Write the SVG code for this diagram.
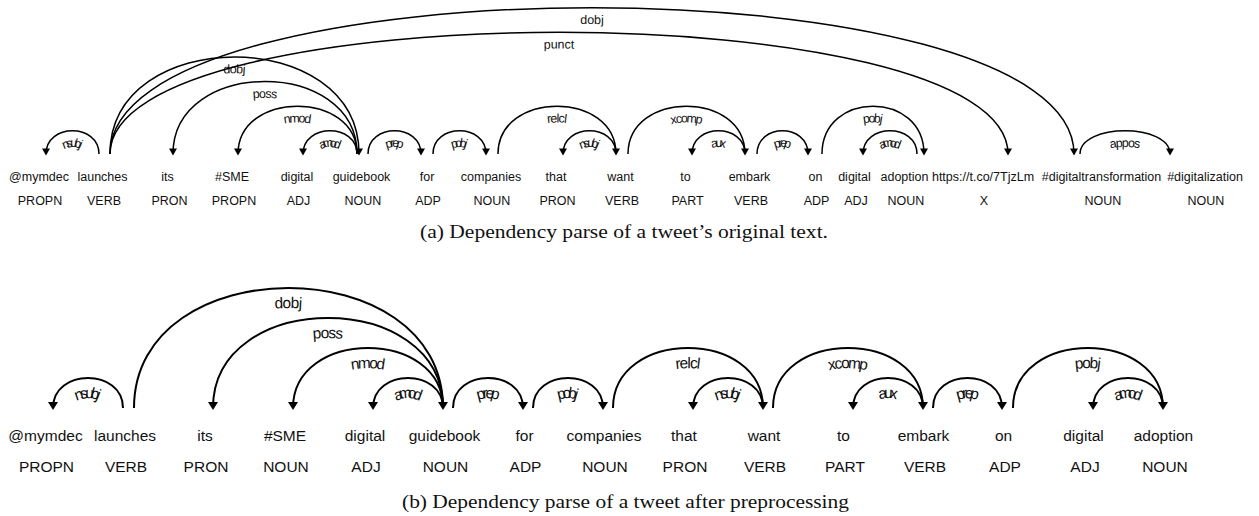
<svg xmlns="http://www.w3.org/2000/svg" width="1259" height="516" viewBox="0 0 1259 516">
  <style>
    .tok { font-family: "Liberation Sans", Arial, Helvetica, sans-serif; fill: #111; text-anchor: middle; }
    .arc { fill: none; stroke: #000; }
    .head { fill: #000; stroke: none; }
    .lbl { font-family: "Liberation Sans", Arial, Helvetica, sans-serif; fill: #111; text-anchor: middle; }
    #parse-a .tok, #parse-a .lbl { font-size: 12.5px; }
    #parse-a .arc { stroke-width: 1.5; }
    #parse-b .tok, #parse-b .lbl { font-size: 15.5px; }
    #parse-b .arc { stroke-width: 2; }
    .caption { font-family: "Liberation Serif", "Times New Roman", serif; font-size: 18px; fill: #111; }
  </style>
  <rect width="1259" height="516" fill="#fff"/>

  <!-- (a) parse of the raw tweet -->
  <g id="parse-a">
    <g id="a-tokens">
      <g id="a-tok-0"><text class="tok" x="39" y="180.5">@mymdec</text><text class="tok" x="40" y="205">PROPN</text></g>
      <g id="a-tok-1"><text class="tok" x="102.5" y="180.5">launches</text><text class="tok" x="104" y="205">VERB</text></g>
      <g id="a-tok-2"><text class="tok" x="167.5" y="180.5">its</text><text class="tok" x="169.5" y="205">PRON</text></g>
      <g id="a-tok-3"><text class="tok" x="232" y="180.5">#SME</text><text class="tok" x="234" y="205">PROPN</text></g>
      <g id="a-tok-4"><text class="tok" x="297" y="180.5">digital</text><text class="tok" x="298.5" y="205">ADJ</text></g>
      <g id="a-tok-5"><text class="tok" x="361.5" y="180.5">guidebook</text><text class="tok" x="363" y="205">NOUN</text></g>
      <g id="a-tok-6"><text class="tok" x="427" y="180.5">for</text><text class="tok" x="428" y="205">ADP</text></g>
      <g id="a-tok-7"><text class="tok" x="491" y="180.5">companies</text><text class="tok" x="492" y="205">NOUN</text></g>
      <g id="a-tok-8"><text class="tok" x="556" y="180.5">that</text><text class="tok" x="557.5" y="205">PRON</text></g>
      <g id="a-tok-9"><text class="tok" x="620.5" y="180.5">want</text><text class="tok" x="622" y="205">VERB</text></g>
      <g id="a-tok-10"><text class="tok" x="685.5" y="180.5">to</text><text class="tok" x="687.5" y="205">PART</text></g>
      <g id="a-tok-11"><text class="tok" x="749.5" y="180.5">embark</text><text class="tok" x="751" y="205">VERB</text></g>
      <g id="a-tok-12"><text class="tok" x="815.5" y="180.5">on</text><text class="tok" x="816.5" y="205">ADP</text></g>
      <g id="a-tok-13"><text class="tok" x="854.5" y="180.5">digital</text><text class="tok" x="856" y="205">ADJ</text></g>
      <g id="a-tok-14"><text class="tok" x="904.5" y="180.5">adoption</text><text class="tok" x="906" y="205">NOUN</text></g>
      <g id="a-tok-15"><text class="tok" x="983" y="180.5">https://t.co/7TjzLm</text><text class="tok" x="984" y="205">X</text></g>
      <g id="a-tok-16"><text class="tok" x="1101.5" y="180.5">#digitaltransformation</text><text class="tok" x="1103" y="205">NOUN</text></g>
      <g id="a-tok-17"><text class="tok" x="1205" y="180.5">#digitalization</text><text class="tok" x="1206" y="205">NOUN</text></g>
    </g>
    <g id="a-arcs">
      <path class="arc" id="a-arc-1" d="M46,154 C46,123 99,123 99,154"/>
      <text class="lbl" dy="1.3em"><textPath href="#a-arc-1" startOffset="50%">nsubj</textPath></text>
      <path class="head" d="M46,155.5 L42,148.5 L50,148.5 Z"/>

      <path class="arc" id="a-arc-2" d="M110,154 C110,24.6 359,24.6 359,154"/>
      <text class="lbl" dy="1.3em"><textPath href="#a-arc-2" startOffset="50%">dobj</textPath></text>
      <path class="head" d="M359,155.5 L355,148.5 L363,148.5 Z"/>

      <path class="arc" id="a-arc-3" d="M110,154 C110,-8.2 1008,-8.2 1008,154"/>
      <text class="lbl" dy="1.3em"><textPath href="#a-arc-3" startOffset="50%">punct</textPath></text>
      <path class="head" d="M1008,155.5 L1004,148.5 L1012,148.5 Z"/>

      <path class="arc" id="a-arc-4" d="M110,154 C110,-41 1074,-41 1074,154"/>
      <text class="lbl" dy="1.3em"><textPath href="#a-arc-4" startOffset="50%">dobj</textPath></text>
      <path class="head" d="M1074,155.5 L1070,148.5 L1078,148.5 Z"/>

      <path class="arc" id="a-arc-5" d="M173,154 C173,57.4 357,57.4 357,154"/>
      <text class="lbl" dy="1.3em"><textPath href="#a-arc-5" startOffset="50%">poss</textPath></text>
      <path class="head" d="M173,155.5 L169,148.5 L177,148.5 Z"/>

      <path class="arc" id="a-arc-6" d="M238,154 C238,90.2 357,90.2 357,154"/>
      <text class="lbl" dy="1.3em"><textPath href="#a-arc-6" startOffset="50%">nmod</textPath></text>
      <path class="head" d="M238,155.5 L234,148.5 L242,148.5 Z"/>

      <path class="arc" id="a-arc-7" d="M303,154 C303,123 357,123 357,154"/>
      <text class="lbl" dy="1.3em"><textPath href="#a-arc-7" startOffset="50%">amod</textPath></text>
      <path class="head" d="M303,155.5 L299,148.5 L307,148.5 Z"/>

      <path class="arc" id="a-arc-8" d="M368,154 C368,123 421,123 421,154"/>
      <text class="lbl" dy="1.3em"><textPath href="#a-arc-8" startOffset="50%">prep</textPath></text>
      <path class="head" d="M421,155.5 L417,148.5 L425,148.5 Z"/>

      <path class="arc" id="a-arc-9" d="M433,154 C433,123 486,123 486,154"/>
      <text class="lbl" dy="1.3em"><textPath href="#a-arc-9" startOffset="50%">pobj</textPath></text>
      <path class="head" d="M486,155.5 L482,148.5 L490,148.5 Z"/>

      <path class="arc" id="a-arc-10" d="M498,154 C498,90.2 616,90.2 616,154"/>
      <text class="lbl" dy="1.3em"><textPath href="#a-arc-10" startOffset="50%">relcl</textPath></text>
      <path class="head" d="M616,155.5 L612,148.5 L620,148.5 Z"/>

      <path class="arc" id="a-arc-11" d="M563,154 C563,123 616,123 616,154"/>
      <text class="lbl" dy="1.3em"><textPath href="#a-arc-11" startOffset="50%">nsubj</textPath></text>
      <path class="head" d="M563,155.5 L559,148.5 L567,148.5 Z"/>

      <path class="arc" id="a-arc-12" d="M628,154 C628,90.2 745,90.2 745,154"/>
      <text class="lbl" dy="1.3em"><textPath href="#a-arc-12" startOffset="50%">xcomp</textPath></text>
      <path class="head" d="M745,155.5 L741,148.5 L749,148.5 Z"/>

      <path class="arc" id="a-arc-13" d="M692,154 C692,123 745,123 745,154"/>
      <text class="lbl" dy="1.3em"><textPath href="#a-arc-13" startOffset="50%">aux</textPath></text>
      <path class="head" d="M692,155.5 L688,148.5 L696,148.5 Z"/>

      <path class="arc" id="a-arc-14" d="M757,154 C757,123 808,123 808,154"/>
      <text class="lbl" dy="1.3em"><textPath href="#a-arc-14" startOffset="50%">prep</textPath></text>
      <path class="head" d="M808,155.5 L804,148.5 L812,148.5 Z"/>

      <path class="arc" id="a-arc-15" d="M822,154 C822,90.2 924,90.2 924,154"/>
      <text class="lbl" dy="1.3em"><textPath href="#a-arc-15" startOffset="50%">pobj</textPath></text>
      <path class="head" d="M924,155.5 L920,148.5 L928,148.5 Z"/>

      <path class="arc" id="a-arc-16" d="M863,154 C863,123 917,123 917,154"/>
      <text class="lbl" dy="1.3em"><textPath href="#a-arc-16" startOffset="50%">amod</textPath></text>
      <path class="head" d="M863,155.5 L859,148.5 L867,148.5 Z"/>

      <path class="arc" id="a-arc-17" d="M1080,154 C1080,123 1170,123 1170,154"/>
      <text class="lbl" dy="1.3em"><textPath href="#a-arc-17" startOffset="50%">appos</textPath></text>
      <path class="head" d="M1170,155.5 L1166,148.5 L1174,148.5 Z"/>
    </g>
    <text id="caption-a" class="caption" x="420" y="238" textLength="408" lengthAdjust="spacingAndGlyphs">(a) Dependency parse of a tweet’s original text.</text>
  </g>

  <!-- (b) parse after preprocessing -->
  <g id="parse-b">
    <g id="b-tokens">
      <g id="b-tok-0"><text class="tok" x="45.5" y="441">@mymdec</text><text class="tok" x="46.5" y="471.5">PROPN</text></g>
      <g id="b-tok-1"><text class="tok" x="125" y="441">launches</text><text class="tok" x="126" y="471.5">VERB</text></g>
      <g id="b-tok-2"><text class="tok" x="205" y="441">its</text><text class="tok" x="206" y="471.5">PRON</text></g>
      <g id="b-tok-3"><text class="tok" x="285" y="441">#SME</text><text class="tok" x="286" y="471.5">NOUN</text></g>
      <g id="b-tok-4"><text class="tok" x="365" y="441">digital</text><text class="tok" x="366" y="471.5">ADJ</text></g>
      <g id="b-tok-5"><text class="tok" x="444.5" y="441">guidebook</text><text class="tok" x="445.5" y="471.5">NOUN</text></g>
      <g id="b-tok-6"><text class="tok" x="524.5" y="441">for</text><text class="tok" x="525.5" y="471.5">ADP</text></g>
      <g id="b-tok-7"><text class="tok" x="604" y="441">companies</text><text class="tok" x="605" y="471.5">NOUN</text></g>
      <g id="b-tok-8"><text class="tok" x="684" y="441">that</text><text class="tok" x="685" y="471.5">PRON</text></g>
      <g id="b-tok-9"><text class="tok" x="764" y="441">want</text><text class="tok" x="765" y="471.5">VERB</text></g>
      <g id="b-tok-10"><text class="tok" x="843.5" y="441">to</text><text class="tok" x="845" y="471.5">PART</text></g>
      <g id="b-tok-11"><text class="tok" x="923.5" y="441">embark</text><text class="tok" x="925" y="471.5">VERB</text></g>
      <g id="b-tok-12"><text class="tok" x="1003.5" y="441">on</text><text class="tok" x="1005" y="471.5">ADP</text></g>
      <g id="b-tok-13"><text class="tok" x="1083.5" y="441">digital</text><text class="tok" x="1085" y="471.5">ADJ</text></g>
      <g id="b-tok-14"><text class="tok" x="1163.5" y="441">adoption</text><text class="tok" x="1165" y="471.5">NOUN</text></g>
    </g>
    <g id="b-arcs">
      <path class="arc" id="b-arc-1" d="M53,408 C53,368 123,368 123,408"/>
      <text class="lbl" dy="1.3em"><textPath href="#b-arc-1" startOffset="50%">nsubj</textPath></text>
      <path class="head" d="M53,410 L48,402 L58,402 Z"/>

      <path class="arc" id="b-arc-2" d="M134,408 C134,248 443,248 443,408"/>
      <text class="lbl" dy="1.3em"><textPath href="#b-arc-2" startOffset="50%">dobj</textPath></text>
      <path class="head" d="M443,410 L438,402 L448,402 Z"/>

      <path class="arc" id="b-arc-3" d="M213,408 C213,288 443,288 443,408"/>
      <text class="lbl" dy="1.3em"><textPath href="#b-arc-3" startOffset="50%">poss</textPath></text>
      <path class="head" d="M213,410 L208,402 L218,402 Z"/>

      <path class="arc" id="b-arc-4" d="M293,408 C293,328 443,328 443,408"/>
      <text class="lbl" dy="1.3em"><textPath href="#b-arc-4" startOffset="50%">nmod</textPath></text>
      <path class="head" d="M293,410 L288,402 L298,402 Z"/>

      <path class="arc" id="b-arc-5" d="M373,408 C373,368 443,368 443,408"/>
      <text class="lbl" dy="1.3em"><textPath href="#b-arc-5" startOffset="50%">amod</textPath></text>
      <path class="head" d="M373,410 L368,402 L378,402 Z"/>

      <path class="arc" id="b-arc-6" d="M453,408 C453,368 523,368 523,408"/>
      <text class="lbl" dy="1.3em"><textPath href="#b-arc-6" startOffset="50%">prep</textPath></text>
      <path class="head" d="M523,410 L518,402 L528,402 Z"/>

      <path class="arc" id="b-arc-7" d="M533,408 C533,368 603,368 603,408"/>
      <text class="lbl" dy="1.3em"><textPath href="#b-arc-7" startOffset="50%">pobj</textPath></text>
      <path class="head" d="M603,410 L598,402 L608,402 Z"/>

      <path class="arc" id="b-arc-8" d="M613,408 C613,328 763,328 763,408"/>
      <text class="lbl" dy="1.3em"><textPath href="#b-arc-8" startOffset="50%">relcl</textPath></text>
      <path class="head" d="M763,410 L758,402 L768,402 Z"/>

      <path class="arc" id="b-arc-9" d="M693,408 C693,368 763,368 763,408"/>
      <text class="lbl" dy="1.3em"><textPath href="#b-arc-9" startOffset="50%">nsubj</textPath></text>
      <path class="head" d="M693,410 L688,402 L698,402 Z"/>

      <path class="arc" id="b-arc-10" d="M773,408 C773,328 923,328 923,408"/>
      <text class="lbl" dy="1.3em"><textPath href="#b-arc-10" startOffset="50%">xcomp</textPath></text>
      <path class="head" d="M923,410 L918,402 L928,402 Z"/>

      <path class="arc" id="b-arc-11" d="M853,408 C853,368 923,368 923,408"/>
      <text class="lbl" dy="1.3em"><textPath href="#b-arc-11" startOffset="50%">aux</textPath></text>
      <path class="head" d="M853,410 L848,402 L858,402 Z"/>

      <path class="arc" id="b-arc-12" d="M933,408 C933,368 1002,368 1002,408"/>
      <text class="lbl" dy="1.3em"><textPath href="#b-arc-12" startOffset="50%">prep</textPath></text>
      <path class="head" d="M1002,410 L997,402 L1007,402 Z"/>

      <path class="arc" id="b-arc-13" d="M1013,408 C1013,328 1163,328 1163,408"/>
      <text class="lbl" dy="1.3em"><textPath href="#b-arc-13" startOffset="50%">pobj</textPath></text>
      <path class="head" d="M1163,410 L1158,402 L1168,402 Z"/>

      <path class="arc" id="b-arc-14" d="M1093,408 C1093,368 1163,368 1163,408"/>
      <text class="lbl" dy="1.3em"><textPath href="#b-arc-14" startOffset="50%">amod</textPath></text>
      <path class="head" d="M1093,410 L1088,402 L1098,402 Z"/>
    </g>
    <text id="caption-b" class="caption" x="402" y="508" textLength="447" lengthAdjust="spacingAndGlyphs">(b) Dependency parse of a tweet after preprocessing</text>
  </g>
</svg>
